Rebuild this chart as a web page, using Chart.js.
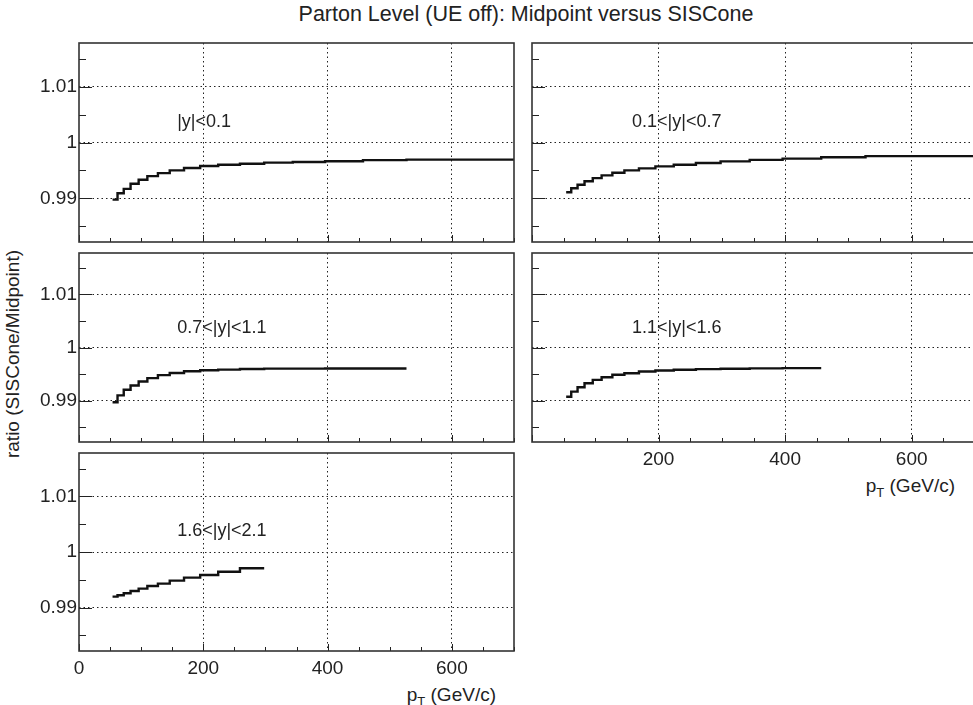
<!DOCTYPE html>
<html>
<head>
<meta charset="utf-8">
<script src="https://cdn.jsdelivr.net/npm/chart.js@4.4.1/dist/chart.umd.min.js"></script>
<style>
  html, body { margin: 0; padding: 0; background: #fff; overflow: hidden; }
  body { width: 973px; height: 705px; position: relative; font-family: "Liberation Sans", Arial, sans-serif; color: #222; }
  canvas { position: absolute; }
  .txt { position: absolute; white-space: nowrap; font-size: 19px; line-height: 1; }
  .txt sub { font-size: 13px; vertical-align: -5px; line-height: 0; }
  .title { font-size: 21.5px; }
</style>
</head>
<body>
<div class="txt title" style="left:526px;top:15px;transform:translate(-50%,-50%)">Parton Level (UE off): Midpoint versus SISCone</div>
<div class="txt" style="left:12px;top:354px;transform:translate(-50%,-50%) rotate(-90deg)">ratio (SISCone/Midpoint)</div>
<div class="txt" style="left:955px;top:485px;transform:translate(-100%,-50%)">p<sub>T</sub> (GeV/c)</div>
<div class="txt" style="left:496px;top:694px;transform:translate(-100%,-50%)">p<sub>T</sub> (GeV/c)</div>

<canvas id="c0"></canvas>
<canvas id="c1"></canvas>
<canvas id="c2"></canvas>
<canvas id="c3"></canvas>
<canvas id="c4"></canvas>

<script>
// pT bin edges (GeV/c), shared by all rapidity regions
const ptEdges = [54, 62, 72, 83, 96, 110, 127, 146, 169, 195, 224, 259, 298, 344, 396, 457, 527, 700];

const rapidityLabels = ['|y|<0.1', '0.1<|y|<0.7', '0.7<|y|<1.1', '1.1<|y|<1.6', '1.6<|y|<2.1'];

// SISCone / Midpoint ratio per bin
const ratioY01 = [0.98978, 0.99092, 0.99171, 0.99261, 0.99333, 0.99399, 0.99453, 0.99501, 0.99543,
                  0.99579, 0.99603, 0.99621, 0.99640, 0.99652, 0.99665, 0.99685, 0.99693];
const ratioY07 = [0.99110, 0.99182, 0.99243, 0.99308, 0.99362, 0.99411, 0.99459, 0.99501, 0.99537,
                  0.99573, 0.99603, 0.99632, 0.99663, 0.99690, 0.99712, 0.99735, 0.99757];
const ratioY11 = [0.98968, 0.99099, 0.99205, 0.99285, 0.99359, 0.99423, 0.99479, 0.99521, 0.99553,
                  0.99572, 0.99583, 0.99596, 0.99602, 0.99603, 0.99604, 0.99604];
const ratioY16 = [0.99072, 0.99168, 0.99250, 0.99326, 0.99390, 0.99440, 0.99486, 0.99516, 0.99549,
                  0.99568, 0.99581, 0.99592, 0.99600, 0.99606, 0.99611];
const ratioY21 = [0.99198, 0.99222, 0.99258, 0.99300, 0.99341, 0.99390, 0.99431, 0.99485, 0.99539,
                  0.99587, 0.99646, 0.99707];

const X_MIN = 0, X_MAX = 700;
const Y_MIN = 0.9822, Y_MAX = 1.0178;
const LABEL_AT = { x: 158, y: 1.0037 };

const FONT = { family: '"Liberation Sans", Arial, sans-serif', size: 19 };
const LABEL_FONT = '18px "Liberation Sans", Arial, sans-serif';
const INK = '#222';

// histogram: one point per low edge + closing point at last upper edge
function histPoints(values) {
  const pts = values.map((v, i) => ({ x: ptEdges[i], y: v }));
  pts.push({ x: ptEdges[values.length], y: values[values.length - 1] });
  return pts;
}

// inward ticks, frame and region label
const framePlugin = {
  id: 'frame',
  afterDraw(chart, args, opts) {
    const { ctx, chartArea: a, scales: { x, y } } = chart;
    ctx.save();
    ctx.strokeStyle = '#222';
    ctx.lineWidth = 1;
    ctx.beginPath();
    for (let v = X_MIN; v <= X_MAX; v += 50) {
      const px = Math.round(x.getPixelForValue(v)) + 0.5;
      const len = v % 200 === 0 ? 7 : 4;
      ctx.moveTo(px, a.bottom);
      ctx.lineTo(px, a.bottom - len);
    }
    for (let k = Math.ceil(Y_MIN / 0.005); k * 0.005 <= Y_MAX; k++) {
      const py = Math.round(y.getPixelForValue(k * 0.005)) + 0.5;
      const len = k % 2 === 0 ? 13 : 7;
      ctx.moveTo(a.left, py);
      ctx.lineTo(a.left + len, py);
    }
    ctx.stroke();

    ctx.strokeStyle = '#333';
    ctx.lineWidth = 1.6;
    ctx.strokeRect(a.left, a.top, a.right - a.left, a.bottom - a.top);

    ctx.fillStyle = INK;
    ctx.font = LABEL_FONT;
    ctx.textAlign = 'left';
    ctx.textBaseline = 'middle';
    ctx.fillText(opts.text, x.getPixelForValue(LABEL_AT.x), y.getPixelForValue(LABEL_AT.y));
    ctx.restore();
  }
};

const tickFmt = v => String(parseFloat(v.toFixed(3)));

function makePanel(id, rect, values, label, showY, showX, showZero) {
  const el = document.getElementById(id);
  const yAxisW = showY ? 79 : 4;
  const xAxisH = showX ? 44 : 3;
  const pad = 3;
  el.style.left = (rect.left - yAxisW) + 'px';
  el.style.top = (rect.top - pad) + 'px';
  el.width = rect.right - rect.left + yAxisW + pad;
  el.height = rect.bottom - rect.top + pad + xAxisH;

  return new Chart(el, {
    type: 'line',
    data: {
      datasets: [{
        data: histPoints(values),
        stepped: 'before',
        borderColor: '#111',
        borderWidth: 2.4,
        pointRadius: 0,
        fill: false
      }]
    },
    options: {
      responsive: false,
      animation: false,
      devicePixelRatio: 1,
      layout: { padding: { top: pad, right: pad, left: 0, bottom: 0 } },
      plugins: {
        legend: { display: false },
        tooltip: { enabled: false },
        frame: { text: label }
      },
      scales: {
        x: {
          type: 'linear', min: X_MIN, max: X_MAX,
          afterFit: s => { s.height = xAxisH; s.paddingLeft = 0; s.paddingRight = 0; },
          ticks: {
            stepSize: 200, includeBounds: false, display: showX, padding: 6,
            font: FONT, color: INK, maxRotation: 0,
            callback: v => (v === 0 && !showZero) ? '' : String(v)
          },
          grid: {
            drawTicks: false, lineWidth: 1,
            color: c => (c.tick && c.tick.value === 0) ? 'rgba(0,0,0,0)' : '#222'
          },
          border: { display: false, dash: [1.5, 3] }
        },
        y: {
          type: 'linear', min: Y_MIN, max: Y_MAX,
          afterFit: s => { s.width = yAxisW; s.paddingTop = 0; s.paddingBottom = 0; },
          ticks: {
            stepSize: 0.01, includeBounds: false, display: showY, padding: 2,
            font: FONT, color: INK, callback: tickFmt
          },
          grid: { drawTicks: false, lineWidth: 1, color: '#222' },
          border: { display: false, dash: [1.5, 3] }
        }
      }
    },
    plugins: [framePlugin]
  });
}

makePanel('c0', { left: 79, right: 514, top: 43, bottom: 242 }, ratioY01, rapidityLabels[0], true, false, false);
makePanel('c1', { left: 532, right: 975, top: 43, bottom: 242 }, ratioY07, rapidityLabels[1], false, false, false);
makePanel('c2', { left: 79, right: 514, top: 253, bottom: 442 }, ratioY11, rapidityLabels[2], true, false, false);
makePanel('c3', { left: 532, right: 975, top: 253, bottom: 442 }, ratioY16, rapidityLabels[3], false, true, false);
makePanel('c4', { left: 79, right: 514, top: 453, bottom: 651 }, ratioY21, rapidityLabels[4], true, true, true);
</script>
</body>
</html>
